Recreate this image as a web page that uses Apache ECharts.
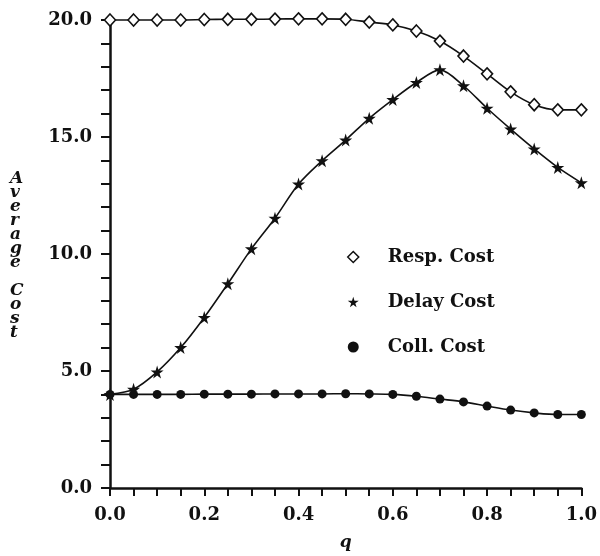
<!DOCTYPE html>
<html>
<head>
<meta charset="utf-8">
<script src="https://cdn.jsdelivr.net/npm/echarts@6/dist/echarts.min.js"></script>
<style>
  html, body { margin: 0; padding: 0; background: #fff; }
  #chart { width: 600px; height: 556px; }
</style>
</head>
<body>
<div id="chart"></div>
<script>
// q values, every 0.05
var qValues = [0.0, 0.05, 0.1, 0.15, 0.2, 0.25, 0.3, 0.35, 0.4, 0.45, 0.5,
  0.55, 0.6, 0.65, 0.7, 0.75, 0.8, 0.85, 0.9, 0.95, 1.0];
var respCost = [20.0, 20.0, 20.0, 20.0, 20.02, 20.03, 20.03, 20.04, 20.05, 20.05, 20.03,
  19.91, 19.79, 19.53, 19.1, 18.46, 17.7, 16.93, 16.38, 16.16, 16.16];
var delayCost = [4.0, 4.22, 4.96, 6.0, 7.29, 8.73, 10.22, 11.53, 12.99, 13.99, 14.87,
  15.8, 16.6, 17.33, 17.87, 17.19, 16.23, 15.34, 14.49, 13.7, 13.04];
var collCost = [4.0, 4.0, 4.0, 4.0, 4.01, 4.01, 4.01, 4.02, 4.02, 4.02, 4.03,
  4.02, 4.0, 3.92, 3.8, 3.68, 3.5, 3.33, 3.21, 3.14, 3.14];
var seriesNames = ['Resp. Cost', 'Delay Cost', 'Coll. Cost'];

var starPath = 'path://M50,0 L61,35 L98,35 L68,57 L79,91 L50,70 L21,91 L32,57 L2,35 L39,35 Z';
var font = 'DejaVu Serif';
var ink = '#111';

function pairs(ys) {
  return qValues.map(function (q, i) { return [q, ys[i]]; });
}

var myChart = echarts.init(document.getElementById('chart'));
var option = {
  backgroundColor: '#fff',
  animation: false,
  grid: { left: 110, right: 18, top: 20, bottom: 68 },
  legend: {
    orient: 'vertical',
    left: 342,
    top: 243,
    itemGap: 27,
    itemWidth: 11,
    itemHeight: 11,
    textStyle: { fontFamily: font, fontWeight: 'bold', fontSize: 18, color: ink, padding: [0, 0, 0, 24] },
    data: [
      { name: seriesNames[0], icon: 'diamond', itemStyle: { color: '#fff', borderColor: ink, borderWidth: 1.5 } },
      { name: seriesNames[1], icon: starPath, itemStyle: { color: ink } },
      { name: seriesNames[2], icon: 'circle', itemStyle: { color: ink } }
    ]
  },
  xAxis: {
    type: 'value',
    min: 0,
    max: 1,
    interval: 0.05,
    name: 'q',
    nameLocation: 'middle',
    nameGap: 46,
    nameTextStyle: { fontFamily: font, fontWeight: 'bold', fontStyle: 'italic', fontSize: 17, color: ink },
    axisLine: { onZero: false, lineStyle: { color: ink, width: 2.5 } },
    axisTick: { inside: false, length: 8, lineStyle: { color: ink, width: 2 } },
    axisLabel: {
      margin: 18,
      fontFamily: font, fontWeight: 'bold', fontSize: 18, color: ink,
      showMaxLabel: true, showMinLabel: true,
      formatter: function (v) {
        var k = Math.round(v * 100);
        return k % 20 === 0 ? (k / 100).toFixed(1) : '';
      }
    },
    splitLine: { show: false }
  },
  yAxis: {
    type: 'value',
    min: 0,
    max: 20,
    interval: 1,
    axisLine: { show: true, onZero: false, lineStyle: { color: ink, width: 2.5 } },
    axisTick: { show: true, inside: false, length: 9, lineStyle: { color: ink, width: 2 } },
    axisLabel: {
      margin: 18,
      fontFamily: font, fontWeight: 'bold', fontSize: 18, color: ink,
      formatter: function (v) {
        return Math.round(v) % 5 === 0 ? v.toFixed(1) : '';
      }
    },
    splitLine: { show: false }
  },
  graphic: [{
    type: 'text',
    left: 10,
    top: 170,
    style: {
      text: 'A\nv\ne\nr\na\ng\ne\n\nC\no\ns\nt',
      fontFamily: font, fontWeight: 'bold', fontStyle: 'italic', fontSize: 17,
      lineHeight: 14, fill: ink, align: 'center'
    }
  }],
  series: [
    {
      name: seriesNames[0],
      type: 'line',
      smooth: 0.3,
      clip: false,
      data: pairs(respCost),
      symbol: 'diamond',
      symbolSize: [11, 12],
      lineStyle: { color: ink, width: 1.6 },
      itemStyle: { color: '#fff', borderColor: ink, borderWidth: 1.6 },
      z: 3
    },
    {
      name: seriesNames[1],
      type: 'line',
      smooth: 0.3,
      clip: false,
      data: pairs(delayCost),
      symbol: starPath,
      symbolSize: 13,
      lineStyle: { color: ink, width: 1.6 },
      itemStyle: { color: ink, borderColor: ink, borderWidth: 0 },
      z: 4
    },
    {
      name: seriesNames[2],
      type: 'line',
      smooth: 0.3,
      clip: false,
      data: pairs(collCost),
      symbol: 'circle',
      symbolSize: 9,
      lineStyle: { color: ink, width: 1.6 },
      itemStyle: { color: ink, borderColor: ink, borderWidth: 0 },
      z: 3
    }
  ]
};
myChart.setOption(option);
</script>
</body>
</html>
